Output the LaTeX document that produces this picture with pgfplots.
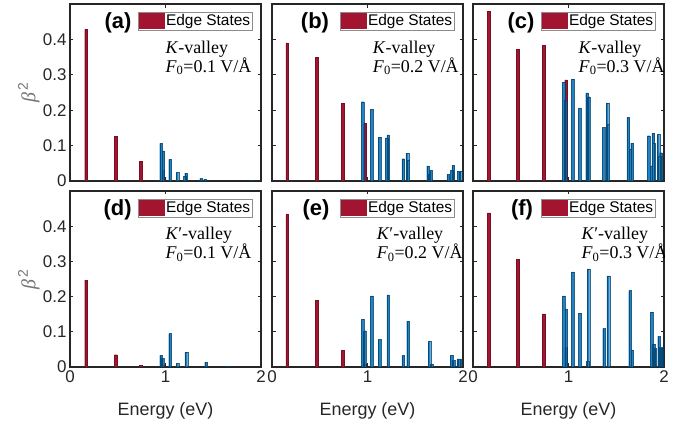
\documentclass[border=0pt]{standalone}
\usepackage{fontspec}
\setmainfont{Liberation Sans}
\newfontfamily\tnr{Liberation Serif}
\usepackage{pgfplots}
\pgfplotsset{compat=1.18}

\definecolor{edgered}{RGB}{162,20,47}
\definecolor{bulkblue}{RGB}{0,114,189}
\definecolor{axisgray}{RGB}{38,38,38}

\newcommand{\fs}[1]{\fontsize{#1}{#1}\selectfont}

\pgfplotsset{
  panel/.style={
    scale only axis, width=191bp,
    xmin=0, xmax=2, ymin=0, ymax=0.5,
    axis line style={line width=1.5bp, draw=axisgray},
    tick style={line width=0.9bp, draw=axisgray},
    tick align=inside, major tick length=3.5bp,
    xtick={0,1,2}, ytick={0,0.1,0.2,0.3,0.4},
    xticklabels={}, yticklabels={},
    tick label style={font=\fs{17}, text=axisgray},
    label style={font=\fs{18}, text=axisgray},
    legend style={at={(rel axis cs:1,1)}, anchor=north east,
      xshift=-8bp, yshift=-8bp, draw=black!45, line width=0.6bp,
      font=\fs{15.5}, inner xsep=1bp, inner ysep=0.5bp,
      nodes={inner xsep=1.5bp, inner ysep=2bp}},
    legend image code/.code={
      \fill[edgered] (0bp,-7.5bp) rectangle (25bp,7.5bp);},
  },
  toprow/.style={panel, height=177bp},
  botrow/.style={panel, height=176bp, xticklabels={0,1,2},
    xlabel={Energy (eV)}, xlabel style={yshift=-13bp}},
  leftcol/.style={yticklabels={0,0.1,0.2,0.3,0.4},
    ylabel={{\tnr\itshape β}\textsuperscript{\,2}},
    every axis y label/.style={at={(rel axis cs:-0.215,0.5)}, rotate=90,
      anchor=center, font=\fs{20}, text=black!55}},
  edge/.style={ybar, bar width=0.028, bar shift=0pt, fill=edgered,
    draw=edgered!75!black, line width=0.3bp},
  bulk/.style={ybar, bar width=0.028, bar shift=0pt, fill=bulkblue,
    fill opacity=0.88, draw=bulkblue!55!black, draw opacity=0.8,
    line width=0.3bp, forget plot},
}

% panel letter and field annotation
\newcommand{\annot}[5]{%
  \node[font=\bfseries\fs{22}, anchor=center] at (rel axis cs:#1,0.893) {#3};
  \node[font=\tnr\fs{18}, anchor=base west] at (rel axis cs:#2,0.723) {#4-valley};
  \node[font=\tnr\fs{18}, anchor=base west] at (rel axis cs:#2,0.615)
    {\textit{F}\textsubscript{0}=#5 V/Å};
}

\begin{document}
\begin{tikzpicture}
\path[use as bounding box] (0,0) rectangle (689bp,424bp);

% (a) K-valley, F0 = 0.1 V/A
\begin{axis}[toprow, leftcol, at={(70bp,243bp)}, anchor=south west]
\addplot[edge] table {
0.168 0.428
0.478 0.127
0.743 0.055
0.977 0.030
};
\addlegendentry{Edge States}
\addplot[bulk] table {
0.953 0.106
0.977 0.085
1.047 0.061
1.124 0.024
1.204 0.014
1.215 0.022
1.372 0.007
1.414 0.005
1.900 0.002
};
\annot{0.251}{0.482}{(a)}{\textit{K}}{0.1}
\end{axis}

% (b) K-valley, F0 = 0.2 V/A
\begin{axis}[toprow, at={(272bp,243bp)}, anchor=south west]
\addplot[edge] table {
0.158 0.390
0.467 0.350
0.738 0.219
0.970 0.163
};
\addlegendentry{Edge States}
\addplot[bulk] table {
0.949 0.224
1.044 0.202
1.125 0.124
1.202 0.122
1.216 0.130
1.374 0.063
1.417 0.079
1.427 0.060
1.634 0.043
1.645 0.020
1.666 0.030
1.845 0.019
1.884 0.030
1.898 0.044
1.954 0.028
1.972 0.028
};
\annot{0.225}{0.51}{(b)}{\textit{K}}{0.2}
\end{axis}

% (c) K-valley, F0 = 0.3 V/A
\begin{axis}[toprow, at={(473bp,243bp)}, anchor=south west]
\addplot[edge] table {
0.164 0.480
0.471 0.372
0.740 0.384
0.974 0.286
};
\addlegendentry{Edge States}
\addplot[bulk] table {
0.949 0.279
0.967 0.227
1.044 0.288
1.117 0.205
1.194 0.249
1.211 0.238
1.368 0.151
1.407 0.221
1.414 0.160
1.626 0.180
1.644 0.090
1.665 0.107
1.839 0.128
1.867 0.043
1.888 0.135
1.892 0.107
1.941 0.132
1.951 0.071
1.969 0.080
};
\annot{0.251}{0.535}{(c)}{\textit{K}}{0.3}
\end{axis}

% (d) K'-valley, F0 = 0.1 V/A
\begin{axis}[botrow, leftcol, at={(70bp,57bp)}, anchor=south west]
\addplot[edge] table {
0.168 0.247
0.478 0.035
0.743 0.005
0.977 0.005
};
\addlegendentry{Edge States}
\addplot[bulk] table {
0.953 0.033
0.970 0.024
1.047 0.095
1.124 0.010
1.218 0.042
1.424 0.014
1.648 0.002
};
\annot{0.249}{0.482}{(d)}{\textit{K}′}{0.1}
\end{axis}

% (e) K'-valley, F0 = 0.2 V/A
\begin{axis}[botrow, at={(272bp,57bp)}, anchor=south west]
\addplot[edge] table {
0.158 0.433
0.467 0.190
0.738 0.048
0.970 0.008
};
\addlegendentry{Edge States}
\addplot[bulk] table {
0.949 0.135
0.970 0.103
1.044 0.202
1.125 0.078
1.216 0.205
1.374 0.033
1.424 0.130
1.648 0.073
1.670 0.008
1.880 0.033
1.902 0.019
1.951 0.023
1.968 0.023
};
\annot{0.23}{0.53}{(e)}{\textit{K}′}{0.2}
\end{axis}

% (f) K'-valley, F0 = 0.3 V/A
\begin{axis}[botrow, at={(473bp,57bp)}, anchor=south west]
\addplot[edge] table {
0.164 0.438
0.471 0.306
0.740 0.151
0.974 0.055
};
\addlegendentry{Edge States}
\addplot[bulk] table {
0.949 0.202
0.974 0.165
1.044 0.270
1.120 0.153
1.200 0.016
1.208 0.279
1.372 0.109
1.417 0.259
1.644 0.217
1.665 0.048
1.871 0.156
1.895 0.065
1.906 0.053
1.948 0.087
1.965 0.055
1.979 0.055
};
\annot{0.257}{0.55}{(f)}{\textit{K}′}{0.3}
\end{axis}
\end{tikzpicture}
\end{document}
